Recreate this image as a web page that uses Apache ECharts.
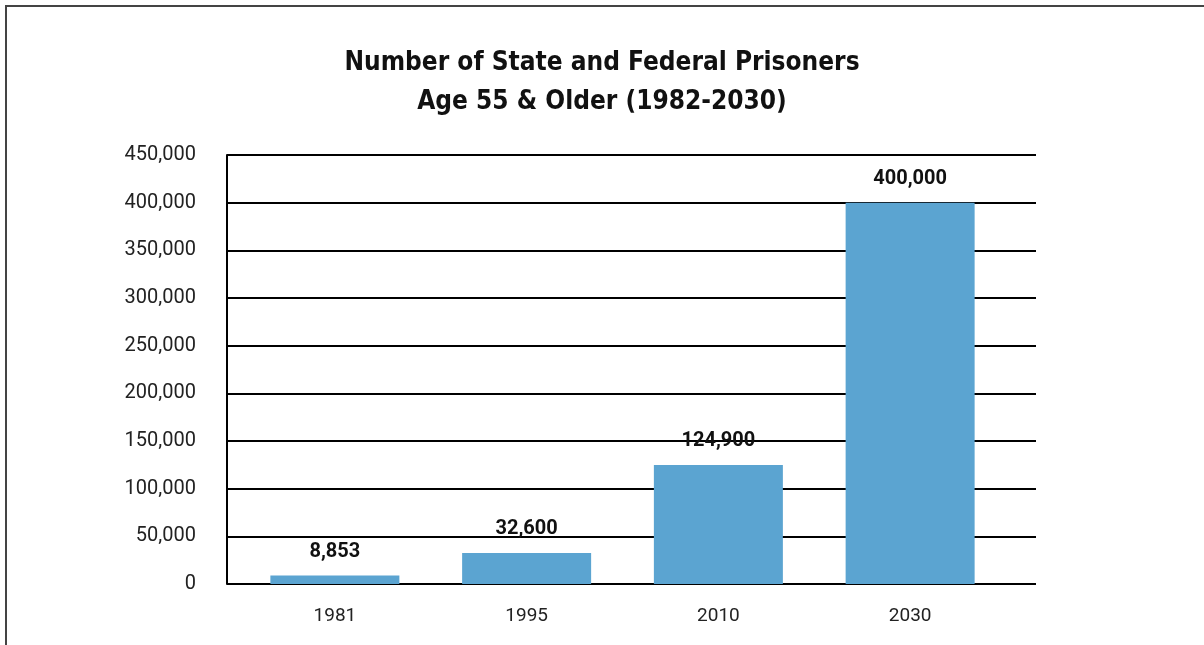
<!DOCTYPE html>
<html>
<head>
    <meta charset="UTF-8">
    <title>Prisoners 55+</title>
    <script type="text/javascript" src="https://cdn.jsdelivr.net/npm/echarts@6/dist/echarts.min.js"></script>
</head>
<body style="margin: 0; background: #fff">
<div id="container" style="width: 1204px; height: 645px"></div>
<script type="text/javascript">
    const years = ['1981', '1995', '2010', '2030'];
    const prisoners = [8853, 32600, 124900, 400000];
    const yTicks = [0, 50000, 100000, 150000, 200000, 250000, 300000, 350000, 400000, 450000];

    const fmt = v => v.toLocaleString('en-US');
    const font = 'Roboto, "DejaVu Sans", sans-serif';

    const myChart = echarts.init(document.getElementById('container'));
    const option = {
        animation: false,
        title: {
            text: 'Number of State and Federal Prisoners\nAge 55 & Older (1982-2030)',
            left: 'center',
            top: 39,
            textStyle: {
                fontFamily: '"DejaVu Sans Condensed", Roboto, sans-serif',
                fontSize: 26,
                fontWeight: 'bold',
                lineHeight: 39,
                color: '#111'
            }
        },
        graphic: [{
            type: 'polyline',
            shape: {points: [[6, 660], [6, 6], [1220, 6]]},
            style: {stroke: '#444', lineWidth: 2, fill: null}
        }],
        grid: [
            {left: 227, right: 168, top: 155, bottom: 61},
            {left: 239, right: 198, top: 155, bottom: 61}
        ],
        xAxis: [{
            gridIndex: 0,
            type: 'category',
            data: years,
            show: false
        }, {
            gridIndex: 1,
            type: 'category',
            data: years,
            axisLine: {show: false},
            axisTick: {show: false},
            axisLabel: {
                margin: 23,
                fontFamily: font,
                fontSize: 19,
                color: '#222'
            }
        }],
        yAxis: [{
            gridIndex: 0,
            type: 'value',
            min: yTicks[0],
            max: yTicks[yTicks.length - 1],
            interval: yTicks[1] - yTicks[0],
            axisLine: {show: true, lineStyle: {color: '#000', width: 2}},
            axisTick: {show: false},
            splitLine: {lineStyle: {color: '#000', width: 2}},
            axisLabel: {
                margin: 31,
                fontFamily: font,
                fontSize: 20,
                color: '#222',
                formatter: v => fmt(v)
            }
        }, {
            gridIndex: 1,
            type: 'value',
            min: yTicks[0],
            max: yTicks[yTicks.length - 1],
            interval: yTicks[1] - yTicks[0],
            show: false,
            splitLine: {show: false}
        }],
        series: [{
            type: 'bar',
            xAxisIndex: 1,
            yAxisIndex: 1,
            data: prisoners,
            barWidth: 129,
            itemStyle: {color: '#5ba4d1'},
            label: {
                show: true,
                position: 'top',
                distance: 14,
                fontFamily: font,
                fontSize: 20,
                fontWeight: 'bold',
                color: '#111',
                formatter: p => fmt(p.value)
            }
        }]
    };
    myChart.setOption(option);
</script>
</body>
</html>
